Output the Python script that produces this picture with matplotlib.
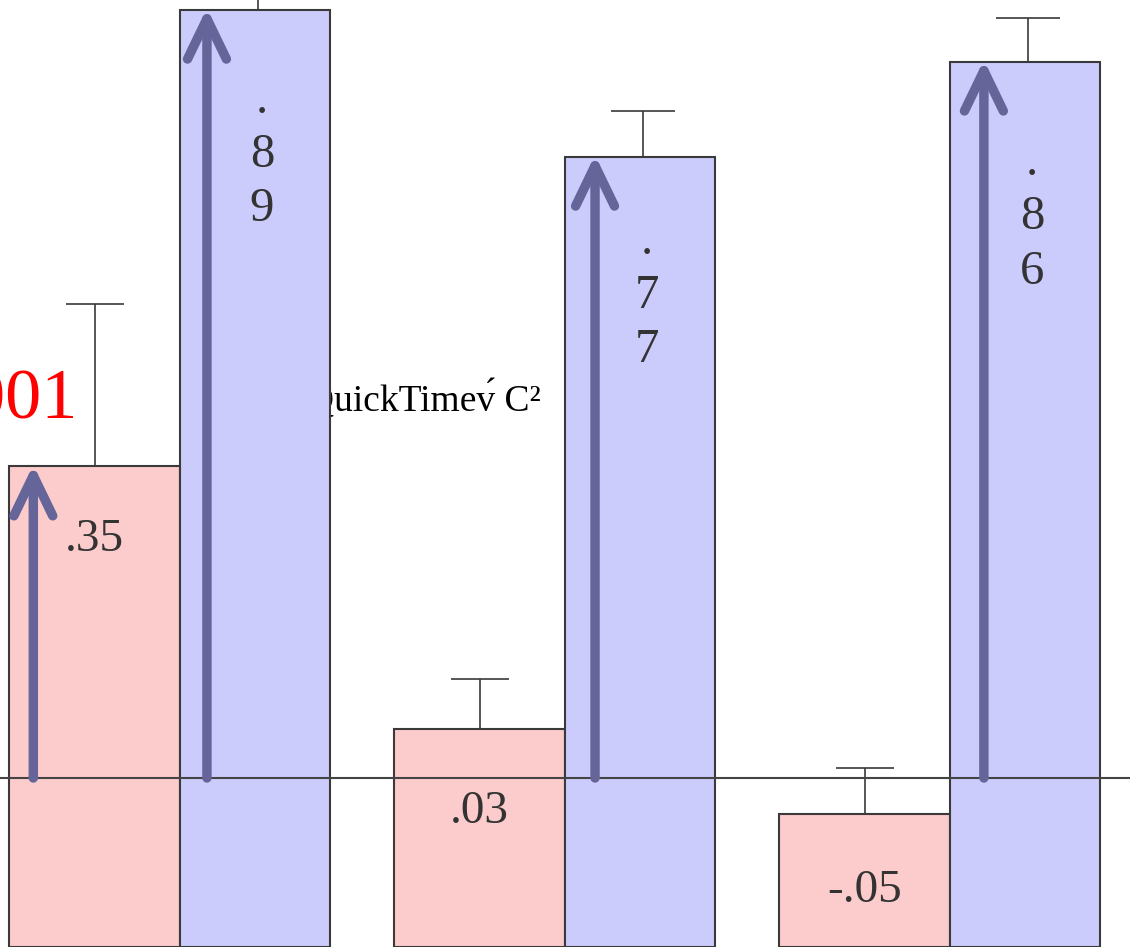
import matplotlib
matplotlib.use("Agg")
import matplotlib.pyplot as plt
import numpy as np

plt.rcParams.update({"font.family": ["Liberation Serif", "DejaVu Serif"]})

# ── data (bar tops, upper error, printed labels) ─────────────────────────────
groups = [0, 1, 2]
pink_tops = [0.354, 0.056, -0.041]
pink_err = [0.185, 0.056, 0.052]
pink_labels = [".35", ".03", "-.05"]

blue_tops = [0.873, 0.706, 0.814]
blue_err = [0.05, 0.052, 0.049]
blue_labels = [".89", ".77", ".86"]

PINK = "#FCCBCB"
BLUE = "#CCCCFC"
EDGE = "#3A3A3A"
ARROW = "#65659A"

fig = plt.figure(figsize=(11.3, 9.47), dpi=100)
ax = fig.add_axes([0, 0, 1, 1])
ax.set_xlim(-0.4675, 2.4675)
ax.set_ylim(-0.192, 0.884)
ax.axis("off")

base = ax.get_ylim()[0]
x = np.array(groups, dtype=float)
pw, bw = 0.443, 0.39

# bars start at the bottom of the frame
ax.bar(x, np.array(pink_tops) - base, bottom=base, width=-pw, align="edge",
       color=PINK, edgecolor=EDGE, linewidth=1.5, zorder=2)
ax.bar(x, np.array(blue_tops) - base, bottom=base, width=bw, align="edge",
       color=BLUE, edgecolor=EDGE, linewidth=1.5, zorder=2)

# upper error bars only
ax.errorbar(x - pw / 2, pink_tops, yerr=[np.zeros(3), pink_err], fmt="none",
            ecolor=EDGE, elinewidth=1.2, capsize=21, capthick=1.2, zorder=1)
ax.errorbar(x + bw / 2 + 0.008, blue_tops, yerr=[np.zeros(3), blue_err], fmt="none",
            ecolor=EDGE, elinewidth=1.2, capsize=23, capthick=1.2, zorder=1)

ax.axhline(0, color="#444444", lw=1.5, zorder=3)

# arrows from zero to the bar tops
arrow_x = [x[0] - pw + 0.062] + list(x + np.array([0.07, 0.078, 0.088]))
arrow_top = [pink_tops[0]] + blue_tops
for ax_x, top in zip(arrow_x, arrow_top):
    ax.annotate("", xy=(ax_x, top + 0.002), xytext=(ax_x, 0),
                arrowprops=dict(arrowstyle="->,head_length=2.9,head_width=1.4",
                                color=ARROW, lw=6.8, shrinkA=0, shrinkB=0,
                                capstyle="round", joinstyle="round"),
                zorder=4)

# value labels
pink_off = [0.083, 0.094, 0.087]
blue_off = [0.165, 0.158, 0.177]
for xi, top, lab, d in zip(x - pw / 2, pink_tops, pink_labels, pink_off):
    ax.text(xi, top - d, lab, ha="center", va="center", fontsize=34,
            color="#333333", zorder=5)
for xi, top, lab, d in zip(x + bw / 2 + 0.018, blue_tops, blue_labels, blue_off):
    ax.text(xi, top - d, "\n".join(lab), ha="center", va="center",
            fontsize=35, linespacing=1.3, color="#333333", zorder=5)

# stray texts
ax.text(0.33, 0.417, "QuickTime\u0076\u0301 C\u00b2", ha="left", va="baseline",
        fontsize=27, color="black", zorder=1.5)
ax.text(-0.265, 0.409, ".001", ha="right", va="baseline", fontsize=52,
        color="red", zorder=5)

fig.savefig("out.png", dpi=100)
